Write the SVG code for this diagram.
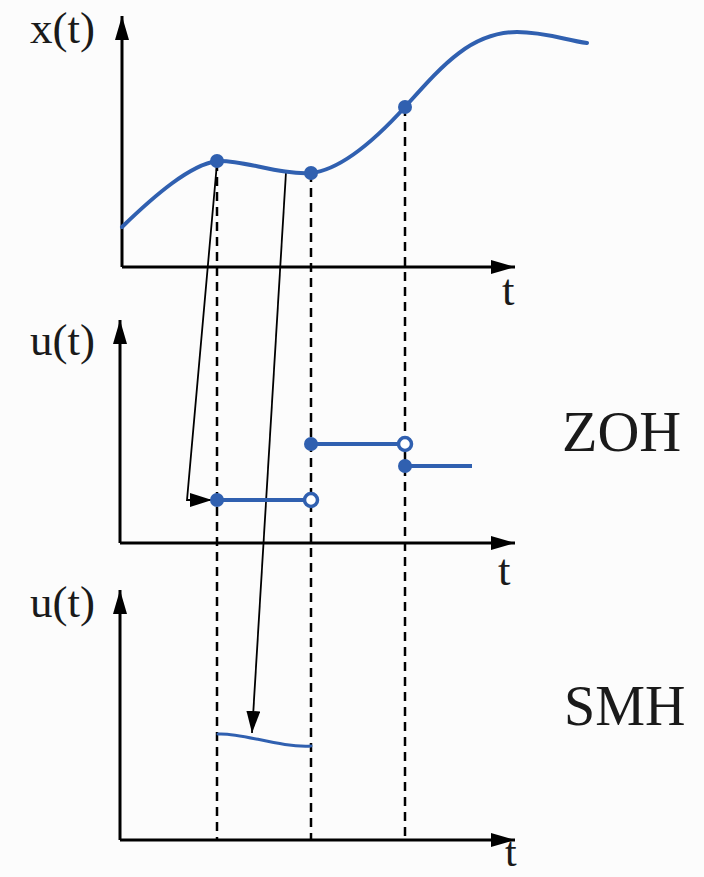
<svg xmlns="http://www.w3.org/2000/svg" width="704" height="877" viewBox="0 0 704 877">
<style>
.lbl{font-family:"Liberation Serif","Times New Roman",serif;fill:#1a1a1a}
.axis{stroke:#000;stroke-width:3;fill:none}
.dash{stroke:#000;stroke-width:2.5;stroke-dasharray:9,6;fill:none}
.sig{stroke:#3060b0;stroke-width:4;fill:none;stroke-linecap:round}
.dot{fill:#3060b0}
.open{fill:#fff;stroke:#3060b0;stroke-width:3.5}
.ptr{stroke:#000;stroke-width:1.8;fill:none}
</style>
<defs>
<marker id="ah" markerUnits="userSpaceOnUse" markerWidth="26" markerHeight="16" refX="24" refY="7" orient="auto">
<path d="M0,0 L24,7 L0,14 Z" fill="#000"/>
</marker>
<marker id="ahs" markerUnits="userSpaceOnUse" markerWidth="24" markerHeight="16" refX="22" refY="7" orient="auto">
<path d="M0,0 L22,7 L0,14 Z" fill="#000"/>
</marker>
</defs>
<rect width="704" height="877" fill="#fcfcfc"/>

<g id="axes-top">
<path class="axis" d="M122,267 L122,16" marker-end="url(#ah)"/>
<path class="axis" d="M122,267 L515,267" marker-end="url(#ah)"/>
<text class="lbl" x="30" y="43" font-size="45">x(t)</text>
<text class="lbl" x="502" y="305" font-size="45">t</text>
</g>
<g id="axes-zoh">
<path class="axis" d="M120,543 L120,320" marker-end="url(#ah)"/>
<path class="axis" d="M120,543 L515,543" marker-end="url(#ah)"/>
<text class="lbl" x="30" y="355" font-size="45">u(t)</text>
<text class="lbl" x="498" y="585" font-size="45">t</text>
<text class="lbl" x="562" y="451" font-size="58">ZOH</text>
</g>
<g id="axes-smh">
<path class="axis" d="M120,840 L120,590" marker-end="url(#ah)"/>
<path class="axis" d="M120,840 L515,840" marker-end="url(#ah)"/>
<text class="lbl" x="30" y="617" font-size="45">u(t)</text>
<text class="lbl" x="505" y="866" font-size="42">t</text>
<text class="lbl" x="564" y="725" font-size="56">SMH</text>
</g>

<g id="connectors">
<line class="dash" x1="217" y1="162" x2="217" y2="840"/>
<line class="dash" x1="311" y1="173" x2="311" y2="840"/>
<line class="dash" x1="405" y1="107" x2="405" y2="840"/>
<path class="ptr" d="M217,163 L187,500 L212,500" marker-end="url(#ahs)"/>
<path class="ptr" d="M286,172 L252,733" marker-end="url(#ahs)"/>
</g>

<g id="signal-x">
<path class="sig" d="M122,227 C155,195 190,165 217,161 C240,159 280,175 311,173 C340,170 375,140 405,107 C440,68 470,32 517,32 C545,32 565,40 587,43"/>
<circle class="dot" cx="217" cy="161" r="7"/>
<circle class="dot" cx="311" cy="173" r="7"/>
<circle class="dot" cx="405" cy="107" r="7"/>
</g>

<g id="signal-zoh">
<line class="sig" x1="217" y1="500" x2="305" y2="500"/>
<circle class="dot" cx="217" cy="500" r="7"/>
<circle class="open" cx="311" cy="500" r="6.5"/>
<line class="sig" x1="311" y1="444" x2="399" y2="444"/>
<circle class="dot" cx="311" cy="444" r="7"/>
<circle class="open" cx="405" cy="444" r="6.5"/>
<line class="sig" x1="405" y1="466" x2="472" y2="466" style="stroke-linecap:butt"/>
<circle class="dot" cx="405" cy="466" r="7"/>
</g>

<g id="signal-smh">
<path class="sig" style="stroke-width:3" d="M218,734 C240,732 280,748 311,746"/>
</g>
</svg>
